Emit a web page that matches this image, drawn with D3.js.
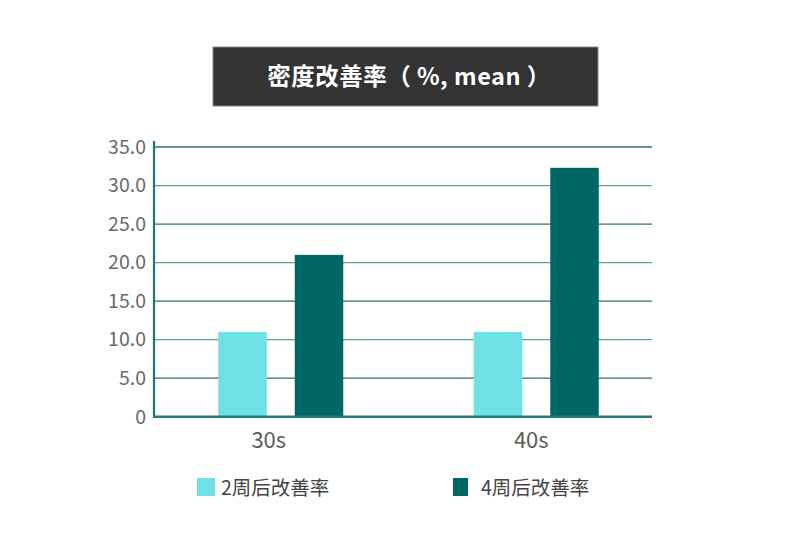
<!DOCTYPE html>
<html>
<head>
<meta charset="utf-8">
<script src="https://d3js.org/d3.v7.min.js"></script>
<style>
  body { margin: 0; background: #fff; }
  text { font-family: "Noto Sans CJK SC", "Noto Sans", sans-serif; }
</style>
</head>
<body>
  <div id="my_dataviz"></div>
  <script>
    var categories = ["30s", "40s"];
    var seriesNames = ["2周后改善率", "4周后改善率"];
    var week2 = [11.0, 11.0];
    var week4 = [21.0, 32.3];
    var yTicks = [0, 5, 10, 15, 20, 25, 30, 35];
    var title = "密度改善率（ %, mean ）";

    var colors = ["#6fe0e6", "#006666"];
    var width = 800, height = 549;
    var margin = {top: 147, right: 148, bottom: 133, left: 154};

    var svg = d3.select("#my_dataviz")
      .append("svg")
      .attr("width", width)
      .attr("height", height);

    // title box
    svg.append("rect")
      .attr("x", 213).attr("y", 47)
      .attr("width", 385).attr("height", 59)
      .style("fill", "#333333")
      .style("stroke", "#8a8a8a")
      .style("stroke-width", 1);
    svg.append("text")
      .attr("x", 409).attr("y", 85)
      .attr("text-anchor", "middle")
      .style("fill", "#fff")
      .style("font-size", "23.5px")
      .style("font-weight", "bold")
      .style("letter-spacing", "0.5px")
      .text(title);

    var y = d3.scaleLinear()
      .domain([0, 35])
      .range([height - margin.bottom + 0.7, margin.top]);

    var x = d3.scaleBand()
      .domain(categories)
      .range([153, 664])
      .paddingInner(0)
      .paddingOuter(0);

    var x1 = d3.scaleBand()
      .domain(seriesNames)
      .range([0, x.bandwidth()])
      .paddingInner(0.366)
      .paddingOuter(0.853);

    var gridRight = 652;

    // grid lines
    svg.append("g")
      .selectAll("line")
      .data(yTicks.slice(1))
      .enter()
      .append("line")
      .attr("x1", margin.left)
      .attr("x2", gridRight)
      .attr("y1", function(d) { return y(d); })
      .attr("y2", function(d) { return y(d); })
      .style("stroke", function(d, i) { return i % 2 ? "#5c9c9c" : "#2f7272"; })
      .style("stroke-width", 1.3);

    // y tick labels
    svg.append("g")
      .selectAll("text")
      .data(yTicks)
      .enter()
      .append("text")
      .attr("x", 146)
      .attr("y", function(d) { return y(d); })
      .attr("dy", "0.35em")
      .attr("text-anchor", "end")
      .style("fill", "#6a6a6a")
      .style("font-size", "19.5px")
      .text(function(d) { return d === 0 ? "0" : d.toFixed(1); });

    // bars
    var data = categories.map(function(c, i) {
      return {cat: c, vals: [week2[i], week4[i]]};
    });

    var groups = svg.append("g")
      .selectAll("g")
      .data(data)
      .enter()
      .append("g")
      .attr("transform", function(d) { return "translate(" + x(d.cat) + ",0)"; });

    groups.selectAll("rect")
      .data(function(d) { return d.vals.map(function(v, i) { return {s: seriesNames[i], v: v, i: i}; }); })
      .enter()
      .append("rect")
      .attr("x", function(d) { return x1(d.s); })
      .attr("width", x1.bandwidth())
      .attr("y", function(d) { return y(d.v); })
      .attr("height", function(d) { return y(0) - y(d.v); })
      .style("fill", function(d) { return colors[d.i]; });

    // axes lines
    svg.append("line")
      .attr("x1", margin.left).attr("x2", margin.left)
      .attr("y1", 141).attr("y2", y(0) + 1)
      .style("stroke", "#1f7474").style("stroke-width", 2.2);
    svg.append("line")
      .attr("x1", margin.left - 1).attr("x2", gridRight)
      .attr("y1", y(0)).attr("y2", y(0))
      .style("stroke", "#2a7a7a").style("stroke-width", 2.4);

    // category labels
    var labelShift = [-12, -5];
    svg.append("g")
      .selectAll("text")
      .data(categories)
      .enter()
      .append("text")
      .attr("x", function(d, i) { return x(d) + x.bandwidth() / 2 + labelShift[i]; })
      .attr("y", 448)
      .attr("text-anchor", "middle")
      .style("fill", "#5a5a5a")
      .style("font-size", "22px")
      .text(function(d) { return d; });

    // legend
    var legendX = [197, 453], legendTextX = [221, 481];
    var legend = svg.append("g")
      .selectAll("g")
      .data(seriesNames)
      .enter()
      .append("g");
    legend.append("rect")
      .attr("x", function(d, i) { return legendX[i]; })
      .attr("y", 478)
      .attr("width", function(d, i) { return i === 0 ? 18 : 15; })
      .attr("height", 18)
      .style("fill", function(d, i) { return colors[i]; });
    legend.append("text")
      .attr("x", function(d, i) { return legendTextX[i]; })
      .attr("y", 495)
      .style("fill", "#444")
      .style("font-size", "19.5px")
      .text(function(d) { return d; });
  </script>
</body>
</html>
